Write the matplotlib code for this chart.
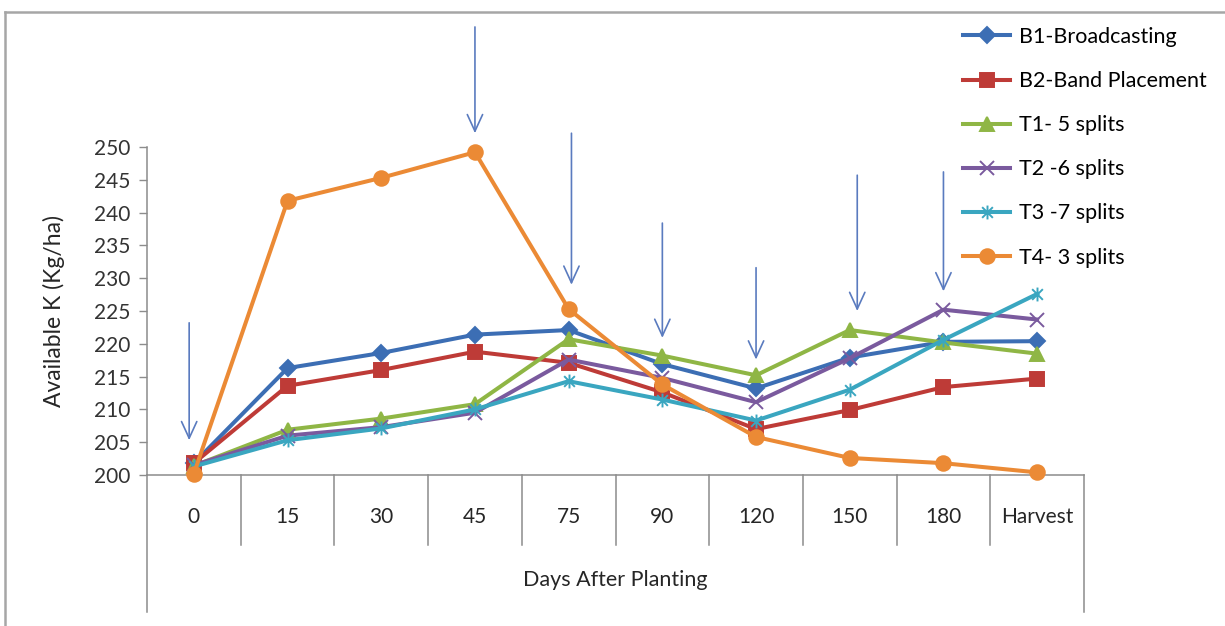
import matplotlib
matplotlib.use("Agg")
import matplotlib.pyplot as plt
from matplotlib.path import Path
from matplotlib.lines import Line2D
import matplotlib.transforms as mtrans

categories = ['0', '15', '30', '45', '75', '90', '120', '150', '180', 'Harvest']
b1 = [201.8, 216.3, 218.6, 221.4, 222.1, 216.9, 213.2, 217.9, 220.3, 220.4]
b2 = [201.8, 213.6, 216.0, 218.8, 217.1, 212.6, 207.0, 209.9, 213.4, 214.7]
t1 = [201.4, 206.9, 208.6, 210.8, 220.7, 218.2, 215.2, 222.1, 220.2, 218.5]
t2 = [201.5, 206.0, 207.3, 209.5, 217.6, 214.8, 211.1, 217.8, 225.2, 223.7]
t3 = [201.3, 205.3, 207.1, 210.0, 214.3, 211.5, 208.3, 213.0, 220.6, 227.6]
t4 = [200.2, 241.8, 245.3, 249.2, 225.3, 213.8, 205.8, 202.6, 201.8, 200.4]
series_names = ['B1-Broadcasting', 'B2-Band Placement', 'T1- 5 splits',
                'T2 -6 splits', 'T3 -7 splits', 'T4- 3 splits']
y_ticks = [200, 205, 210, 215, 220, 225, 230, 235, 240, 245, 250]

# annotation arrows: (category position, top value, tip value)
arrow_x = [-0.05, 3.0, 4.03, 5.0, 6.0, 7.08, 8.0]
arrow_top = [223.2, 268.3, 252.1, 238.4, 231.6, 245.7, 246.2]
arrow_tip = [205.3, 252.1, 229.0, 220.9, 217.6, 225.0, 228.0]

plt.rcParams['font.family'] = ['Lato', 'DejaVu Sans']

fig = plt.figure(figsize=(12.25, 6.26), dpi=100)
W, H = 1225, 626
ax = fig.add_axes([147 / W, 1 - 475 / H, (1084 - 147) / W, (475 - 147) / H])

star_path = Path([(-1, -1), (1, 1), (-1, 1), (1, -1), (0, -1.3), (0, 1.3)],
                 [Path.MOVETO, Path.LINETO] * 3)

colors = ['#3C6EB4', '#BE3B37', '#8FB645', '#7A5A9E', '#3AA6C0', '#EB8A35']
markers = ['D', 's', '^', 'x', star_path, 'o']
msizes = [8, 10, 9.5, 10, 10, 10.5]
data = [b1, b2, t1, t2, t3, t4]
x = list(range(len(categories)))
handles = []
for d, c, m, ms, name in zip(data, colors, markers, msizes, series_names):
    h, = ax.plot(x, d, color=c, lw=2.9, marker=m, ms=ms, mec=c, mfc=c,
                 mew=1.4, label=name, clip_on=False, zorder=3)
    handles.append(h)

ax.set_xlim(-0.5, 9.5)
ax.set_ylim(200, 250)
ax.set_yticks(y_ticks)
ax.tick_params(axis='y', direction='out', length=6, width=1, color='#8C8C8C',
               labelsize=15, labelcolor='#333333', pad=6)
ax.set_xticks([])
for s in ['top', 'right']:
    ax.spines[s].set_visible(False)
for s in ['left', 'bottom']:
    ax.spines[s].set_color('#8C8C8C')
    ax.spines[s].set_linewidth(1.1)

trans = mtrans.blended_transform_factory(ax.transData, ax.transAxes)
for i, lab in enumerate(categories):
    ax.text(i, -42 / 328, lab, transform=trans, ha='center', va='center',
            fontsize=15, color='#262626')
for i in range(1, len(categories)):
    ax.add_line(Line2D([i - 0.5, i - 0.5], [0, -70 / 328], transform=trans,
                       color='#8C8C8C', lw=1.1, clip_on=False))
for xx in [-0.5, 9.5]:
    ax.add_line(Line2D([xx, xx], [0, -137 / 328], transform=trans,
                       color='#8C8C8C', lw=1.1, clip_on=False))

ax.text(0.5, -(580 - 475) / 328, 'Days After Planting', transform=ax.transAxes,
        ha='center', va='center', fontsize=15.5, color='#262626')
ax.set_ylabel('Available K (Kg/ha)', fontsize=16.5, color='#262626')
ax.yaxis.set_label_coords(-(147 - 65) / 937, 0.5)

for xa, yt, yp in zip(arrow_x, arrow_top, arrow_tip):
    ax.annotate('', xy=(xa, yp), xytext=(xa, yt), annotation_clip=False,
                arrowprops=dict(arrowstyle='->,head_length=1.2,head_width=0.55',
                                mutation_scale=10, color='#5A7BBF', lw=1.2,
                                shrinkA=0, shrinkB=0), zorder=4)

fig.legend(handles=handles, loc='upper left',
           bbox_to_anchor=(963 / W, 1 - 27 / H), frameon=False,
           fontsize=15.5, handlelength=2.2, handletextpad=0.4,
           labelspacing=1.12, borderpad=0, borderaxespad=0)

fig.add_artist(Line2D([5 / W, 1], [1 - 12 / H, 1 - 12 / H], color='#A6A6A6', lw=1.8))
fig.add_artist(Line2D([5 / W, 5 / W], [0, 1 - 12 / H], color='#A6A6A6', lw=1.8))

fig.savefig('out.png', dpi=100, facecolor='white')
